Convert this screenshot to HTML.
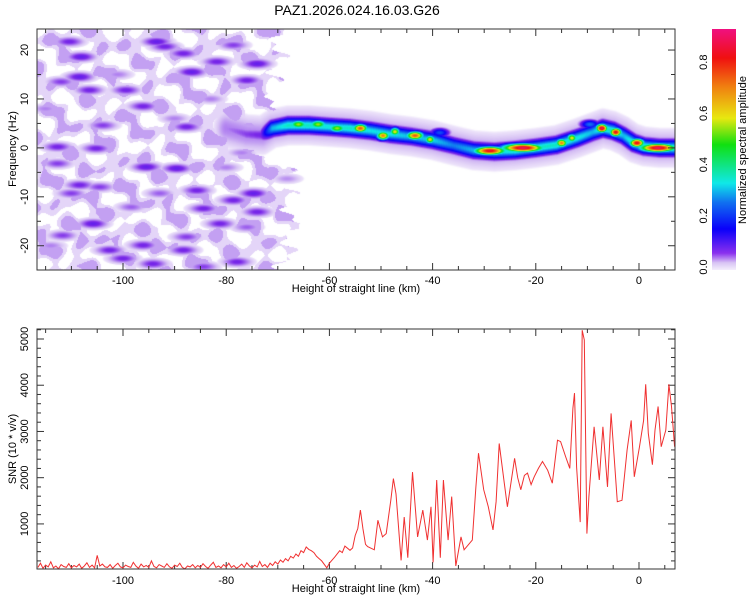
<!DOCTYPE html>
<html><head><meta charset="utf-8"><style>
html,body{margin:0;padding:0;background:#fff;}
#wrap{position:relative;width:750px;height:600px;overflow:hidden;font-family:"Liberation Sans",sans-serif;}
canvas{position:absolute;left:37px;top:29px;}
svg{position:absolute;left:0;top:0;}
text{font-family:"Liberation Sans",sans-serif;fill:#000;}
</style></head><body>
<div id="wrap">
<canvas id="hm" width="638" height="241"></canvas>
<svg id="s" width="750" height="600">
<defs><linearGradient id="cb" x1="0" y1="1" x2="0" y2="0">
<stop offset="0" stop-color="#f4eefc"/><stop offset="0.03" stop-color="#d8c4f4"/><stop offset="0.07" stop-color="#8a30ee"/>
<stop offset="0.17" stop-color="#0a00fa"/><stop offset="0.28" stop-color="#1070f0"/><stop offset="0.36" stop-color="#10e8e8"/>
<stop offset="0.52" stop-color="#10e010"/><stop offset="0.63" stop-color="#e8e810"/><stop offset="0.76" stop-color="#f08010"/>
<stop offset="0.88" stop-color="#f01010"/><stop offset="1" stop-color="#f01080"/></linearGradient></defs>
<text x="357" y="15" font-size="14" text-anchor="middle">PAZ1.2026.024.16.03.G26</text>
<rect x="712" y="29" width="24" height="241" fill="url(#cb)"/>
<text transform="translate(746,150) rotate(-90)" font-size="11" text-anchor="middle">Normalized spectral amplitude</text>
<text transform="translate(16,149) rotate(-90)" font-size="11" text-anchor="middle">Frequency (Hz)</text>
<text transform="translate(16,449) rotate(-90)" font-size="11" text-anchor="middle">SNR (10 * v/v)</text>
<text x="356" y="292" font-size="11" text-anchor="middle">Height of straight line (km)</text>
<text x="356" y="592" font-size="11" text-anchor="middle">Height of straight line (km)</text>
<g id="axes"></g>
<path id="snr" fill="none" stroke="#f03030" stroke-width="1"/>
<rect x="37" y="29" width="638" height="241" fill="none" stroke="#333"/>
<rect x="37" y="329" width="638" height="240" fill="none" stroke="#333"/>
</svg>
</div>
<script>
// ---- data ----
const xTicks = [-100,-80,-60,-40,-20,0];
const freqTicks = [-20,-10,0,10,20];
const snrTicks = [1000,2000,3000,4000,5000];
const cbTicks = [0.0,0.2,0.4,0.6,0.8];
const ridgeX = [-80,-76,-73,-71,-68,-64,-60,-56,-52,-48,-44,-40,-36,-32,-28,-24,-20,-16,-12,-9,-7,-5,-3,-1,1,4,7.5];
const ridgeF = [4,2.8,2.6,4,4.6,4.6,4.3,4,3.5,2.8,2.3,1.6,0.5,-0.5,-0.8,-0.5,0,0.6,2,3.2,4,3.5,2.5,1,0.3,0,0];
const ridgeA = [0.05,0.07,0.08,0.3,0.36,0.36,0.34,0.36,0.33,0.33,0.3,0.32,0.26,0.3,0.32,0.36,0.36,0.36,0.34,0.3,0.36,0.36,0.3,0.36,0.36,0.36,0.36];
const peakX = [-66,-62.2,-58.5,-54,-49.6,-47.3,-43.4,-40.5,-28.9,-22.5,-15,-13,-7.2,-4.5,-0.4,3.7,-38.6,-9.5];
const peakF = [4.8,4.8,4,4,2.5,3.3,2.5,1.7,-0.6,0,1,2,4,3.2,1,0,3.1,4.8];
const peakA = [0.55,0.55,0.55,0.75,0.7,0.6,0.75,0.6,0.85,0.9,0.7,0.6,0.9,0.85,0.85,0.9,0.22,0.25];
const peakW = [1.2,1.2,1.2,1,0.9,0.7,1.2,0.7,2.2,2.8,0.8,0.7,0.8,0.8,1,2.5,1.2,1.2];
const blobX = [-110.4,-108.1,-108.4,-106.5,-112,-99.4,-96.1,-93.5,-91.9,-88.3,-86.7,-81.8,-78.6,-74,-76,-87.7,-103.9,-112.7,-105.2,-95.5,-89.6,-112.7,-108.4,-110,-104.5,-85.7,-74.7,-78.6,-84.4,-74,-105.8,-81.2,-111.7,-102.6,-96.1,-88.3,-94.2,-100,-77.9,-84.4,-87.7,-92.9,-76,-98.4,-68.2,-80,-77,-101,-115,-114,-90,-83];
const blobF = [21.7,18.6,14.5,11.8,13.5,11.8,8.5,21.7,20.7,19.3,15.5,17.6,21,17.2,13.8,4.3,4.6,0.2,-0.1,-3.9,-4.2,-3.2,-7.6,-9.3,-8,-8.7,-9.3,-10.7,-12.4,-13.1,-15.5,-15.5,-17.9,-20.9,-19.9,-20.9,-23.7,-22.6,-23.3,-24.3,-18.2,-9.3,-16.2,-12.1,-6.3,-4,-1,15,8,-20,6,10];
const blobA = [0.08,0.09,0.09,0.08,0.07,0.08,0.08,0.09,0.08,0.08,0.09,0.08,0.07,0.09,0.08,0.08,0.07,0.08,0.08,0.09,0.09,0.07,0.08,0.07,0.07,0.08,0.09,0.08,0.08,0.08,0.09,0.08,0.07,0.08,0.08,0.08,0.08,0.08,0.08,0.07,0.07,0.06,0.06,0.06,0.045,0.05,0.05,0.05,0.05,0.05,0.05,0.05];
const hazeF = [24,15,5,0,-5,-15,-25];
const hazeEdge = [-70,-70,-71,-74,-68,-67,-69];
const snrBase = [60,150,40,110,70,180,50,90,30,120,80,60,140,50,100,70,130,40,90,160,60,110,50,320,90,130,70,60,120,40,100,150,70,50,110,80,60,170,90,40,130,70,100,60,200,80,50,120,90,60,140,70,40,110,80,150,60,30,90,70,120,50,100,60,140,80,40,110,170,60,90,50,120,70,150,60,100,40,80,130,60,160,90,50,110,70,190,80,120,60,150,100,180,130,220,170,250,200,300,260,350,300,420,380,500,450,420,380,300,250];
const snrX = [-61.5,-60.5,-60,-59,-58,-57.5,-57,-56,-55.5,-55,-54.5,-54,-53.5,-53,-52.6,-51.3,-50.6,-49.7,-49,-48.1,-47.6,-47.1,-46.1,-45.5,-44.8,-43.9,-42.9,-41.9,-41,-40.3,-39.9,-39.2,-38.5,-37.9,-37,-36.3,-35.5,-34.5,-33.9,-32.3,-31.6,-31.1,-30.1,-29.2,-28.3,-27.7,-27.1,-26.1,-25.5,-24.1,-23.5,-22.9,-22.2,-21.6,-20.9,-20.3,-19.5,-18.7,-17.7,-16.8,-15.8,-15.2,-14.2,-13.4,-12.8,-12.5,-12.1,-11.4,-11,-10.6,-10.1,-9.7,-8.7,-7.7,-7,-6.1,-5.4,-4.2,-3.3,-2.3,-1.5,-0.9,0.1,0.9,1.3,1.8,2.6,3.1,3.7,4.3,5.2,5.8,6.3,6.9];
const snrY = [200,50,150,280,420,380,520,430,480,750,900,1300,900,560,510,440,1080,720,790,1510,1980,1650,210,1150,270,2120,720,1300,650,1370,170,1950,270,1950,650,1590,90,720,440,650,1800,2530,1740,1370,870,1480,2740,1880,1370,2420,2000,1740,2050,2100,1850,2020,2200,2350,2160,1880,2810,2780,2450,2200,3500,3830,2230,1040,5190,4980,790,1590,3100,1950,3100,1800,3390,1480,1510,2600,3240,2020,2670,3240,4020,2960,2280,3030,3540,2670,3030,4020,3540,2670];

// ---- scales ----
const X0=-116.67, X1=6.98, PL=37, PR=675;
const sx = v => PL + (v-X0)/(X1-X0)*(PR-PL);
const F0=-24.96, F1=24.3, TT=29, TB=270;
const sf = v => TB - (v-F0)/(F1-F0)*(TB-TT);
const S0=25, S1=5216, BT=329, BB=569;
const ss = v => BB - (v-S0)/(S1-S0)*(BB-BT);
const scb = v => 267 - v*256;

const NS='http://www.w3.org/2000/svg';
const axes=document.getElementById('axes');
function line(x1,y1,x2,y2,name){const l=document.createElementNS(NS,'line');
l.setAttribute('x1',x1);l.setAttribute('y1',y1);l.setAttribute('x2',x2);l.setAttribute('y2',y2);
l.setAttribute('stroke','#333');l.setAttribute('stroke-width','1');


axes.appendChild(l);}
function txt(x,y,s,rot,name){const t=document.createElementNS(NS,'text');
t.setAttribute('font-size','11');t.setAttribute('text-anchor','middle');
if(rot)t.setAttribute('transform',`translate(${x},${y}) rotate(-90)`);else{t.setAttribute('x',x);t.setAttribute('y',y);}
t.textContent=s;


axes.appendChild(t);}

for(let v=-115;v<=5;v+=5){const px=sx(v);const maj=(v%20===0);const L=maj?7:4;
 line(px,TT,px,TT+L,'x-tick');line(px,TB,px,TB-L,'x-tick');
 line(px,BT,px,BT+L,'x-tick');line(px,BB,px,BB-L,'x-tick');}
xTicks.forEach(v=>{txt(sx(v),284,String(v),false,'x-tick-label');txt(sx(v),584,String(v),false,'x-tick-label');});
for(let v=-20;v<=20;v+=5){const py=sf(v);const maj=(v%10===0);const L=maj?7:4;
 line(PL,py,PL+L,py,'y-tick');line(PR,py,PR-L,py,'y-tick');}
freqTicks.forEach(v=>txt(28,sf(v),String(v),true,'freq-tick-label'));
for(let v=200;v<=5200;v+=200){const py=ss(v);const maj=(v%1000===0);const L=maj?7:4;
 line(PL,py,PL+L,py,'y-tick');line(PR,py,PR-L,py,'y-tick');}
snrTicks.forEach(v=>txt(28,ss(v),String(v),true,'snr-tick-label'));
cbTicks.forEach(v=>txt(707,scb(v),v.toFixed(1),true,'colorbar-tick-label'));

let d='';snrBase.forEach((v,i)=>{d+=(i?'L':'M')+sx(-116.5+i*0.5).toFixed(1)+','+ss(v).toFixed(1);});
snrX.forEach((x,i)=>{d+='L'+sx(x).toFixed(1)+','+ss(snrY[i]).toFixed(1);});
document.getElementById('snr').setAttribute('d',d);

// heatmap
const comps=[];
for(let i=0;i<ridgeX.length-1;i++){for(let t=0;t<1;t+=0.08){
 const x=ridgeX[i]+(ridgeX[i+1]-ridgeX[i])*t,f=ridgeF[i]+(ridgeF[i+1]-ridgeF[i])*t,a=ridgeA[i]+(ridgeA[i+1]-ridgeA[i])*t;
 comps.push([x,f,a,0.7,1.0]);comps.push([x,f,Math.min(a,0.05),1.5,2.4]);}}
peakX.forEach((x,i)=>comps.push([x,peakF[i],peakA[i],peakW[i],0.6]));
blobX.forEach((x,i)=>comps.push([x,blobF[i],blobA[i],2.0,0.7]));
const stops=[[0,[255,255,255]],[0.01,[255,255,255]],[0.014,[236,226,250]],[0.03,[214,192,244]],[0.05,[176,128,240]],[0.075,[122,40,232]],[0.15,[10,0,250]],[0.25,[16,112,240]],[0.33,[16,232,232]],[0.48,[16,224,16]],[0.58,[232,232,16]],[0.70,[240,128,16]],[0.82,[240,16,16]],[0.93,[240,16,128]]];
function col(v){if(v<=0)return stops[0][1];for(let i=1;i<stops.length;i++){if(v<=stops[i][0]){const a=stops[i-1],b=stops[i];const t=(v-a[0])/(b[0]-a[0]);return a[1].map((c,k)=>c+(b[1][k]-c)*t);}}return stops[stops.length-1][1];}
function hazeEdgeAt(f){for(let i=0;i<hazeF.length-1;i++){if(f<=hazeF[i]&&f>=hazeF[i+1]){const t=(f-hazeF[i])/(hazeF[i+1]-hazeF[i]);return hazeEdge[i]+(hazeEdge[i+1]-hazeEdge[i])*t;}}return -70;}
const cv=document.getElementById('hm'),ctx=cv.getContext('2d');const W=cv.width,H=cv.height;
const img=ctx.createImageData(W,H);
for(let py=0;py<H;py++){const f=F1-(py+0.5)/H*(F1-F0);const edge=hazeEdgeAt(f);
 for(let px=0;px<W;px++){const x=X0+(px+0.5)/W*(X1-X0);let v=0;
  const ed=edge+1.5*Math.sin(f*1.1)+1.0*Math.sin(f*2.7+1);
  if(x<ed){const h=Math.sin(x*0.9+f*0.4)+Math.sin(f*1.3-x*0.35+2)+Math.sin(x*0.55+f*0.9+1)+0.6*Math.sin(x*1.7-f*0.5);
   v=h>0.9?0.04:(h>-0.4?0.02:0.004);}
  for(const c of comps){const dx=(x-c[0])/c[3];if(dx>4||dx<-4)continue;const dy=(f-c[1])/c[4];if(dy>4||dy<-4)continue;
   const g=c[2]*Math.exp(-0.5*(dx*dx+dy*dy));if(g>v)v=g;}
  const k=col(v);const o=(py*W+px)*4;img.data[o]=k[0];img.data[o+1]=k[1];img.data[o+2]=k[2];img.data[o+3]=255;}}
ctx.putImageData(img,0,0);
</script>
</body></html>
